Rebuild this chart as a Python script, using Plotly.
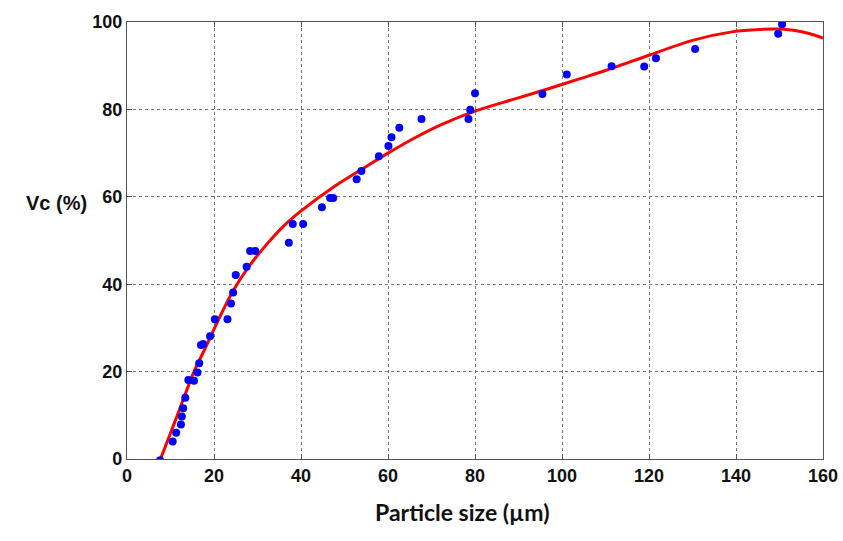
import plotly.graph_objects as go

# Measured data points (particle size in µm, Vc in %)
size_um = [7.6, 10.5, 11.3, 12.4, 12.6, 12.9, 13.4, 14.1, 15.4, 16.2, 16.6, 17.0, 17.5,
           19.1, 20.2, 23.1, 23.9, 24.4, 25.0, 27.5, 28.3, 29.5, 37.2, 38.1, 40.5,
           44.8, 46.7, 47.4, 52.8, 53.9, 57.9, 60.1, 60.8, 62.6, 67.7, 78.5, 78.9,
           80.0, 95.5, 101.1, 111.4, 118.9, 121.6, 130.6, 149.7, 150.6]
vc_pct = [-0.3, 4.0, 6.0, 7.9, 9.7, 11.6, 14.0, 18.1, 17.9, 19.8, 21.9, 26.1, 26.3,
          28.1, 32.0, 32.0, 35.6, 38.1, 42.1, 44.0, 47.6, 47.6, 49.5, 53.8, 53.8,
          57.6, 59.7, 59.7, 64.0, 65.9, 69.3, 71.6, 73.6, 75.8, 77.8, 77.8, 79.9,
          83.7, 83.5, 88.0, 89.9, 89.8, 91.7, 93.8, 97.3, 99.5]

# Fitted curve
fit_x = [7.7, 11, 15.4, 18.3, 20.6, 24.4, 28, 32, 36, 39.8, 47.4, 55.1, 60, 66,
         72, 80, 88.8, 96.5, 104, 110, 120, 130, 139.4, 145.5, 150, 153.2, 157, 160]
fit_y = [0, 8.5, 20, 26, 31, 38.5, 44, 49, 53.3, 56.6, 62.2, 67.0, 70.0, 73.4,
         76.4, 79.6, 82.3, 84.6, 87.0, 88.9, 92.4, 95.8, 97.8, 98.3, 98.4, 98.1, 97.3, 96.3]

x_ticks = [0, 20, 40, 60, 80, 100, 120, 140, 160]
y_ticks = [0, 20, 40, 60, 80, 100]

fig = go.Figure()
fig.add_trace(go.Scatter(x=fit_x, y=fit_y, mode="lines",
                         line=dict(color="#ff0000", width=3, shape="spline", smoothing=0.8),
                         showlegend=False, hoverinfo="skip"))
fig.add_trace(go.Scatter(x=size_um, y=vc_pct, mode="markers",
                         marker=dict(color="#0000ff", size=8),
                         showlegend=False))

tickfont = dict(family="Liberation Sans Narrow, Arial Narrow, Liberation Sans, Arial",
                size=18, color="#111", weight="bold")
axis_common = dict(showgrid=True, gridcolor="#777", griddash="dot", gridwidth=1,
                   showline=True, linecolor="#555", linewidth=1.3, mirror="ticks",
                   ticks="inside", ticklen=5, tickcolor="#555", zeroline=False,
                   tickfont=tickfont, automargin=False)

fig.update_xaxes(range=[0, 160], tickvals=x_ticks, **axis_common)
fig.update_yaxes(range=[0, 100], tickvals=y_ticks, **axis_common)

fig.add_annotation(text="Particle size (µm)", xref="paper", yref="paper", x=0.481, y=-0.122,
                   xanchor="center", yanchor="middle", showarrow=False,
                   font=dict(family="Lato, Open Sans, Liberation Sans, Arial", size=23,
                             color="#111", weight="bold"))
fig.add_annotation(text="Vc (%)", xref="paper", yref="paper", x=-0.1006, y=0.585,
                   xanchor="center", yanchor="middle", showarrow=False,
                   font=dict(family="Liberation Sans, Arial", size=20, color="#111", weight="bold"))

fig.update_layout(width=843, height=541, paper_bgcolor="white", plot_bgcolor="white",
                  margin=dict(l=127, r=20, t=22, b=82))

fig.write_html("out.html", config={"displayModeBar": False},
               post_script="document.body.style.margin='0';document.body.style.overflow='hidden';")
